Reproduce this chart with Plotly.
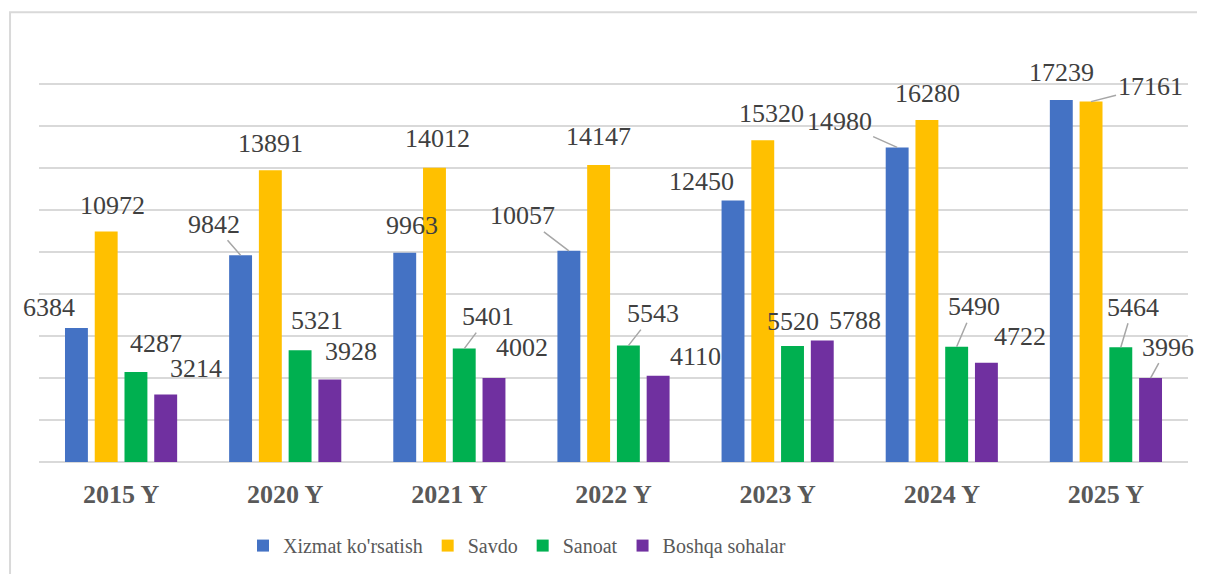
import plotly.graph_objects as go

# ---------------- data ----------------
categories = ["2015 Y", "2020 Y", "2021 Y", "2022 Y", "2023 Y", "2024 Y", "2025 Y"]
xizmat = [6384, 9842, 9963, 10057, 12450, 14980, 17239]
savdo = [10972, 13891, 14012, 14147, 15320, 16280, 17161]
sanoat = [4287, 5321, 5401, 5543, 5520, 5490, 5464]
boshqa = [3214, 3928, 4002, 4110, 5788, 4722, 3996]
series_names = ["Xizmat ko'rsatish", "Savdo", "Sanoat", "Boshqa sohalar"]

# ---------------- style ----------------
colors = ["#4472C4", "#FFC000", "#00B050", "#7030A0"]
series_values = [xizmat, savdo, sanoat, boshqa]
BARGAP = 0.275
GROUPGAP = 0.23
FONT = "Liberation Serif, Times New Roman, serif"

# label placement (px offsets of the label centre from the bar top), leader line flag
label_offsets = [
    [(-27, -20, False), (-27, -31, True), (7, -27, False), (-46, -35, True),
     (-32, -19, False), (-58, -26, True), (0, -27, False)],
    [(6, -26, False), (0, -27, False), (3, -29, False), (0, -28, False),
     (9, -27, False), (1, -27, False), (59, -15, True)],
    [(20, -28, False), (17, -30, False), (24, -32, True), (25, -32, True),
     (0, -25, False), (17, -40, True), (12, -40, True)],
    [(30, -26, False), (21, -28, False), (28, -30, False), (37, -19, False),
     (33, -20, False), (34, -26, False), (17, -31, True)],
]

fig = go.Figure()
for name, vals, col in zip(series_names, series_values, colors):
    fig.add_trace(go.Bar(x=categories, y=vals, name=name,
                         marker=dict(color=col, line=dict(width=0))))

n = len(series_values)
slot = (1 - BARGAP) / n
annotations = []
for si, vals in enumerate(series_values):
    off = -(1 - BARGAP) / 2 + (si + 0.5) * slot
    for ci, v in enumerate(vals):
        dx, dy, leader = label_offsets[si][ci]
        base = dict(x=ci + off, y=v, xref="x", yref="y", text=str(v),
                    font=dict(family=FONT, size=26, color="#404040"),
                    xanchor="center", yanchor="middle")
        if leader:
            base.update(showarrow=True, arrowhead=0, arrowwidth=1.5,
                        arrowcolor="#A6A6A6", ax=dx, ay=dy, standoff=0)
        else:
            base.update(showarrow=False, xshift=dx, yshift=-dy)
        annotations.append(base)

# page body has an 8px margin: figure is sized/offset to compensate
fig.update_layout(
    width=1189, height=566,
    margin=dict(l=31, r=9, t=34, b=110, pad=0),
    font=dict(family=FONT, color="#595959"),
    paper_bgcolor="white", plot_bgcolor="white",
    barmode="group", bargap=BARGAP, bargroupgap=GROUPGAP,
    showlegend=True,
    legend=dict(orientation="h", x=0.416, xanchor="center", y=-0.199, yanchor="middle",
                font=dict(family=FONT, size=20, color="#595959"),
                traceorder="normal"),
    annotations=annotations,
    xaxis=dict(range=[-0.5, len(categories) - 0.5], autorange=False,
               showgrid=False, showline=False, zeroline=False, ticks="",
               tickfont=dict(family=FONT, size=26, color="#595959", weight="bold"),
               ticklabelstandoff=14),
    yaxis=dict(range=[0, 20000], autorange=False, dtick=2000, showticklabels=False,
               showgrid=True, gridcolor="#D9D9D9", gridwidth=1.5,
               zeroline=True, zerolinecolor="#D9D9D9", zerolinewidth=1.5,
               showline=False, ticks=""),
    shapes=[dict(type="rect", xref="paper", yref="paper",
                 x0=-0.0252, x1=1.03, y0=-0.30, y1=1.071,
                 line=dict(color="#D9D9D9", width=2), fillcolor="rgba(0,0,0,0)",
                 layer="below")],
)

fig.write_html("out.html")
